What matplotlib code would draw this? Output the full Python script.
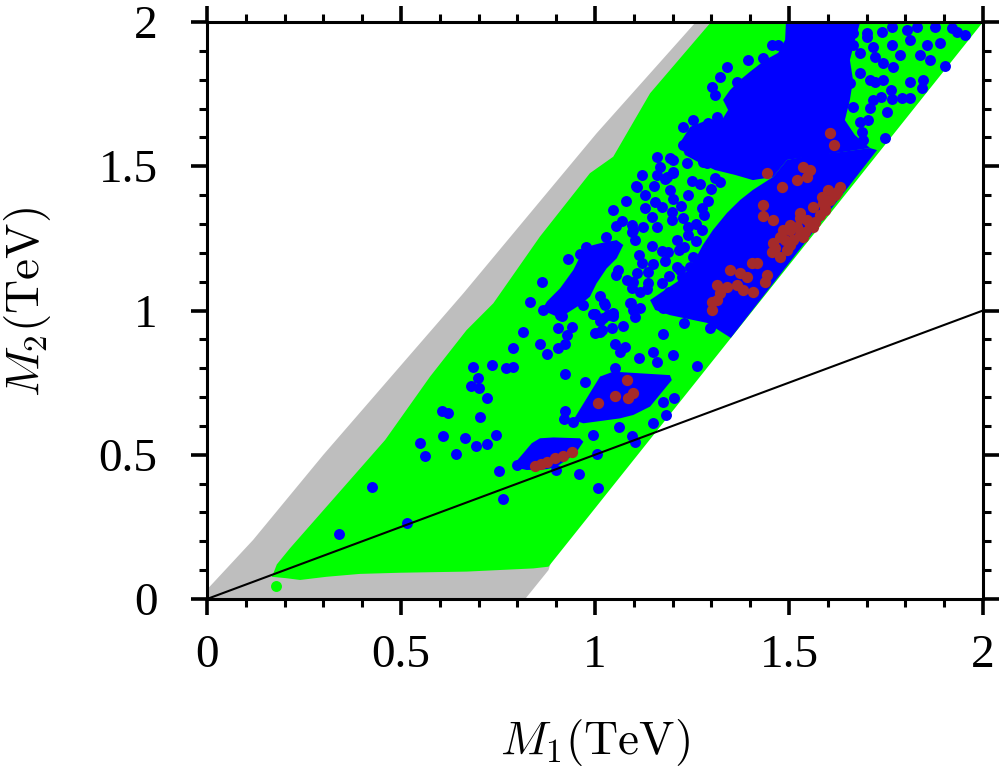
import numpy as np
import matplotlib
matplotlib.use("Agg")
import matplotlib.pyplot as plt
from matplotlib.ticker import MultipleLocator, FuncFormatter

plt.rcParams['mathtext.fontset'] = 'cm'
plt.rcParams['font.family'] = ['Liberation Serif', 'DejaVu Serif']

# outline of the gray (excluded) band, (M1, M2) in TeV
gray_region = [(0.0, 0.0), (0.005, 0.04), (0.119, 0.205), (0.30, 0.50), (0.661, 1.06),
               (1.004, 1.614), (1.26, 2.0), (1.34, 2.0), (0.88, 0.10), (0.82, 0.0)]

# outline of the green (allowed) region
green_region = [(1.33, 2.0), (2.0, 2.0), (0.88, 0.112), (0.841, 0.106), (0.669, 0.095),
                (0.497, 0.091), (0.394, 0.087), (0.308, 0.077), (0.240, 0.066),
                (0.205, 0.072), (0.167, 0.077), (0.171, 0.089), (0.18, 0.12),
                (0.214, 0.176), (0.459, 0.551), (0.575, 0.771), (0.669, 0.932),
                (0.738, 1.025), (0.858, 1.256), (0.987, 1.476), (1.047, 1.533),
                (1.142, 1.753), (1.296, 1.995)]
green_extra = [(0.179, 0.045)]

# dense blue clusters (envelopes of overlapping points)
blue_cluster_a = [(0.789, 0.464), (0.815, 0.505), (0.837, 0.540), (0.858, 0.557), (0.893, 0.560),
                  (0.961, 0.557), (0.970, 0.545), (0.953, 0.511), (0.927, 0.482), (0.901, 0.459),
                  (0.876, 0.450), (0.824, 0.447), (0.794, 0.456)]
blue_cluster_b = [(0.944, 0.620), (1.013, 0.771), (1.047, 0.788), (1.193, 0.776), (1.198, 0.759),
                  (1.142, 0.667), (1.099, 0.638), (1.064, 0.626), (0.970, 0.609)]
blue_cluster_c = [(0.863, 1.002), (0.876, 1.031), (0.910, 1.077), (0.944, 1.140), (0.961, 1.186),
                  (0.979, 1.221), (1.013, 1.233), (1.056, 1.244), (1.073, 1.227), (1.056, 1.181),
                  (1.030, 1.146), (1.004, 1.094), (0.987, 1.048), (0.961, 1.019), (0.927, 0.990),
                  (0.901, 0.979)]
blue_cluster_d = [(1.727, 1.556), (1.350, 0.905), (1.289, 0.957), (1.193, 0.984), (1.155, 1.002),
                  (1.142, 1.036), (1.180, 1.071), (1.219, 1.106), (1.253, 1.165), (1.278, 1.227),
                  (1.304, 1.279), (1.340, 1.338), (1.374, 1.383), (1.407, 1.418), (1.459, 1.463),
                  (1.495, 1.522), (1.562, 1.539), (1.631, 1.549), (1.709, 1.563)]
blue_cluster_top = [(1.492, 1.997), (1.683, 1.997), (1.670, 1.938), (1.657, 1.868), (1.665, 1.799),
                    (1.657, 1.730), (1.644, 1.660), (1.670, 1.608), (1.709, 1.563), (1.495, 1.522),
                    (1.459, 1.463), (1.407, 1.452), (1.361, 1.470), (1.309, 1.487), (1.271, 1.511),
                    (1.232, 1.539), (1.219, 1.581), (1.245, 1.636), (1.289, 1.660), (1.330, 1.667),
                    (1.343, 1.695), (1.330, 1.730), (1.348, 1.764), (1.374, 1.799), (1.399, 1.827),
                    (1.438, 1.868), (1.472, 1.893), (1.490, 1.938)]

# individual blue points
blue_points = [
    (0.815, 0.927), (0.927, 0.915), (1.013, 0.927), (0.789, 0.869), (0.858, 0.884), (0.876, 0.849),
    (0.905, 0.869), (0.923, 0.884), (1.052, 0.884), (1.077, 0.875), (1.064, 0.857), (1.114, 0.834),
    (1.149, 0.857), (1.159, 0.823), (0.686, 0.803), (0.735, 0.811), (0.771, 0.800), (0.788, 0.803),
    (1.052, 0.800), (0.923, 0.779), (0.699, 0.765), (0.680, 0.739), (0.701, 0.730), (0.974, 0.751),
    (0.722, 0.696), (0.605, 0.653), (0.622, 0.646), (0.704, 0.630), (0.923, 0.653), (0.920, 0.623),
    (0.944, 0.612), (1.063, 0.597), (1.150, 0.611), (0.609, 0.565), (0.665, 0.557), (0.745, 0.568),
    (0.996, 0.568), (1.095, 0.565), (1.103, 0.545), (0.549, 0.540), (0.562, 0.496), (0.693, 0.531),
    (0.721, 0.537), (0.642, 0.503), (1.004, 0.503), (0.798, 0.464), (0.753, 0.445), (0.899, 0.447),
    (0.960, 0.433), (1.009, 0.384), (0.764, 0.346), (0.516, 0.264), (0.424, 0.387), (0.341, 0.224),
    (1.183, 0.638), (1.176, 0.684), (1.204, 0.698), (1.262, 0.809), (0.905, 0.938), (0.940, 0.944),
    (1.000, 0.988), (1.021, 0.973), (1.047, 0.981), (1.000, 0.921), (1.017, 0.932), (1.043, 0.938),
    (1.073, 0.946), (1.202, 0.846), (1.176, 0.917), (1.103, 0.979), (1.116, 1.008), (1.176, 1.008),
    (0.832, 1.031), (0.867, 1.002), (0.910, 0.984), (0.970, 1.019), (1.026, 1.019), (1.090, 1.025),
    (0.863, 1.100), (0.931, 1.177), (0.961, 1.196), (0.977, 1.219),
    (1.106, 1.432), (1.152, 1.432), (1.180, 1.455), (1.202, 1.481), (1.193, 1.418), (1.202, 1.385),
    (1.155, 1.377), (1.172, 1.358), (1.198, 1.342), (1.222, 1.362), (1.129, 1.354), (1.046, 1.348),
    (1.146, 1.323), (1.226, 1.320), (1.053, 1.293), (1.095, 1.296), (1.123, 1.290), (1.159, 1.290),
    (1.028, 1.256), (1.103, 1.244), (1.211, 1.244), (1.146, 1.224), (1.114, 1.192), (1.172, 1.206),
    (1.189, 1.204), (1.217, 1.210), (1.060, 1.140), (1.054, 1.123), (1.137, 1.135), (1.211, 1.150),
    (1.099, 1.100), (1.095, 1.077), (1.137, 1.094), (1.133, 1.075), (1.116, 1.063), (1.172, 1.094),
    (1.191, 1.065), (1.223, 1.115), (1.013, 1.050), (1.023, 1.025), (1.092, 1.027), (0.996, 0.988),
    (1.034, 0.984), (0.914, 0.981), (1.013, 0.965), (1.229, 0.956), (1.296, 0.938), (1.331, 0.961),
    (1.352, 0.950), (1.365, 0.979),
    (1.159, 1.533), (1.193, 1.528), (1.168, 1.498), (1.202, 1.476), (1.107, 1.429), (1.099, 1.279),
    (1.198, 1.314), (1.122, 1.164), (1.107, 1.129), (1.082, 1.106), (1.099, 1.002), (1.047, 0.990),
    (1.245, 1.152), (1.219, 1.140), (1.262, 1.117), (1.271, 1.013), (1.305, 1.025), (1.245, 1.048),
    (1.348, 0.984), (1.279, 1.516), (1.322, 1.446), (1.275, 1.354), (1.275, 1.279), (1.253, 1.187),
    (1.266, 1.164), (1.228, 1.117), (1.095, 1.273), (1.080, 1.380), (1.130, 1.400), (1.070, 1.310),
    (1.160, 1.470), (1.120, 1.470), (1.240, 1.400), (1.250, 1.450), (1.240, 1.260), (1.230, 1.220),
    (1.150, 1.160), (1.180, 1.170), (1.190, 1.120), (1.260, 1.300), (1.280, 1.330), (1.290, 1.380),
    (1.300, 1.420), (1.270, 1.440), (1.310, 1.460), (1.260, 1.240), (1.240, 1.290),
    # upper left edge of the blue mass
    (1.455, 1.920), (1.472, 1.920), (1.395, 1.868), (1.339, 1.845), (1.322, 1.810), (1.301, 1.775),
    (1.309, 1.747), (1.365, 1.793), (1.253, 1.660), (1.228, 1.637), (1.258, 1.626), (1.292, 1.649),
    (1.314, 1.672), (1.348, 1.666), (1.228, 1.574), (1.245, 1.591), (1.284, 1.574), (1.309, 1.591),
    (1.331, 1.580), (1.348, 1.539), (1.322, 1.510), (1.369, 1.568), (1.391, 1.545), (1.399, 1.498),
    (1.202, 1.522), (1.236, 1.510), (1.262, 1.545), (1.288, 1.510), (1.185, 1.464), (1.417, 1.822),
    (1.434, 1.874),
    # upper right part
    (1.597, 1.984), (1.631, 1.972), (1.666, 1.961), (1.700, 1.961), (1.739, 1.966), (1.765, 1.984),
    (1.803, 1.972), (1.829, 1.984), (1.876, 1.984), (1.919, 1.978), (1.932, 1.966), (1.954, 1.955),
    (1.812, 1.938), (1.855, 1.920), (1.889, 1.926), (1.838, 1.886), (1.863, 1.868), (1.902, 1.847),
    (1.765, 1.920), (1.786, 1.886), (1.769, 1.845), (1.743, 1.857), (1.717, 1.914), (1.666, 1.920),
    (1.683, 1.891), (1.722, 1.880), (1.743, 1.799), (1.722, 1.793), (1.763, 1.764), (1.737, 1.741),
    (1.717, 1.730), (1.765, 1.732), (1.790, 1.736), (1.812, 1.736), (1.812, 1.793), (1.846, 1.799),
    (1.842, 1.770), (1.709, 1.701), (1.752, 1.689), (1.704, 1.660), (1.683, 1.655), (1.747, 1.597),
    (1.657, 1.788), (1.683, 1.822), (1.709, 1.799), (1.666, 1.707), (1.640, 1.718), (1.687, 1.620),
    (1.691, 1.591), (1.700, 1.949), (1.631, 1.903), (1.606, 1.926),
]

# brown points
brown_points = [
    (0.845, 0.461), (0.876, 0.476), (0.897, 0.488), (0.918, 0.497), (0.940, 0.511), (0.861, 0.468),
    (1.009, 0.678), (1.052, 0.704), (1.082, 0.759), (1.086, 0.696), (1.099, 0.713),
    (1.606, 1.614), (1.616, 1.574), (1.537, 1.498), (1.554, 1.487), (1.546, 1.464), (1.443, 1.476),
    (1.520, 1.452), (1.481, 1.427), (1.631, 1.429), (1.623, 1.412), (1.601, 1.418), (1.584, 1.395),
    (1.434, 1.366), (1.434, 1.328), (1.460, 1.314), (1.528, 1.337), (1.563, 1.360), (1.588, 1.372),
    (1.546, 1.314), (1.520, 1.291), (1.485, 1.279), (1.563, 1.291), (1.537, 1.256), (1.511, 1.244),
    (1.477, 1.256), (1.460, 1.233), (1.455, 1.204), (1.477, 1.187), (1.494, 1.210), (1.417, 1.164),
    (1.404, 1.164), (1.348, 1.140), (1.374, 1.129), (1.391, 1.117), (1.443, 1.123), (1.438, 1.100),
    (1.314, 1.088), (1.339, 1.083), (1.365, 1.088), (1.382, 1.071), (1.408, 1.065), (1.322, 1.060),
    (1.314, 1.036), (1.302, 1.031), (1.302, 1.002),
    (1.503, 1.227), (1.528, 1.262), (1.554, 1.296), (1.580, 1.331), (1.593, 1.355), (1.606, 1.383),
    (1.619, 1.400), (1.503, 1.279), (1.490, 1.244), (1.464, 1.217), (1.567, 1.307), (1.541, 1.272),
    (1.593, 1.348), (1.503, 1.296), (1.528, 1.320),
]

# M2 = M1/2 reference line
line_m1 = [0.0, 2.0]
line_m2 = [0.0, 1.0]

GRAY = '#bebebe'
GREEN = '#00ff00'
BLUE = '#0000ff'
BROWN = '#a52a2a'

fig = plt.figure(figsize=(9.99, 7.67), dpi=100)
ax = fig.add_axes([207 / 999, 1 - 599 / 767, 776 / 999, 577 / 767])


def poly(pts, color, z):
    xs, ys = zip(*pts)
    ax.fill(xs, ys, color=color, lw=0, zorder=z)


poly(gray_region, GRAY, 1)
poly(green_region, GREEN, 2)
gx, gy = zip(*green_extra)
ax.scatter(gx, gy, s=62, color=GREEN, lw=0, zorder=2)

for cl in [blue_cluster_a, blue_cluster_b, blue_cluster_c, blue_cluster_d, blue_cluster_top]:
    poly(cl, BLUE, 3)
bx, by = zip(*blue_points)
ax.scatter(bx, by, s=62, color=BLUE, lw=0, zorder=4)

rx, ry = zip(*brown_points)
ax.scatter(rx, ry, s=66, color=BROWN, lw=0, zorder=5)

ax.plot(line_m1, line_m2, color='black', lw=1.5, zorder=6)

ax.set_xlim(0, 2)
ax.set_ylim(0, 2)

ax.xaxis.set_major_locator(MultipleLocator(0.5))
ax.xaxis.set_minor_locator(MultipleLocator(0.1))
ax.yaxis.set_major_locator(MultipleLocator(0.5))
ax.yaxis.set_minor_locator(MultipleLocator(0.1))
fmt = FuncFormatter(lambda v, p: '%g' % v)
ax.xaxis.set_major_formatter(fmt)
ax.yaxis.set_major_formatter(fmt)

for s in ax.spines.values():
    s.set_linewidth(2.2)
    s.set_zorder(7)
ax.tick_params(which='both', direction='out', top=True, right=True)
ax.tick_params(which='major', length=11.5, width=2.6, labelsize=34)
ax.tick_params(which='minor', length=5.5, width=2.2)
ax.tick_params(axis='x', which='major', pad=14)
ax.tick_params(axis='y', which='major', pad=24)

ax.set_xlabel(r'$M_1(\mathrm{TeV})$', fontsize=34)
ax.set_ylabel(r'$M_2(\mathrm{TeV})$', fontsize=34)
ax.xaxis.set_label_coords(0.5, -0.205)
ax.yaxis.set_label_coords(-0.198, 0.515)

fig.savefig('out.png', dpi=100)
